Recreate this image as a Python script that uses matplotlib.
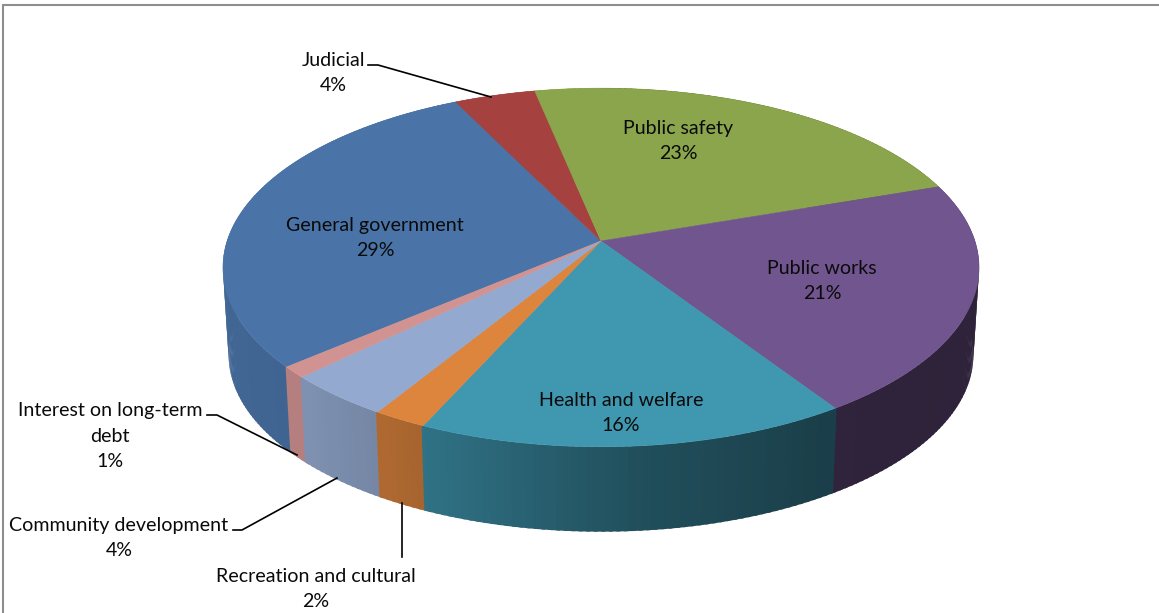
import numpy as np
import matplotlib
matplotlib.use("Agg")
import matplotlib.pyplot as plt

categories = ["General government", "Judicial", "Public safety", "Public works",
              "Health and welfare", "Recreation and cultural", "Community development",
              "Interest on long-term\ndebt"]
percents = [29, 4, 23, 21, 16, 2, 4, 1]
colors = ["#4A74A8", "#A5423F", "#8AA54C", "#71558E", "#3F97B0", "#DD843D", "#93A9CF", "#D19392"]

# label centres, in pixels
label_x = [375, 333, 678, 822, 621, 316, 119, 110]
label_y = [238, 73, 141, 281, 413, 589, 538, 436]

# leader lines for the labels that sit outside the pie
leaders = [
    ([368, 378, 491], [65, 65, 97]),
    ([207, 217, 297], [415, 415, 455]),
    ([233, 242, 337], [530, 530, 478]),
    ([402, 402], [503, 557]),
]

# pie geometry
CX, CY = 601, 241
A, B, K = 175.4, 373.9, 0.1476
DEPTH = 88
BOTTOM_SCALE = 0.985
START = 229.5

# wall brightness by clockwise angle from the back of the pie
SHADE_ANGLE = [0, 90, 150, 175, 200, 210, 225, 270, 360]
SHADE_VALUE = [0.40, 0.40, 0.42, 0.52, 0.73, 0.79, 0.86, 0.90, 0.90]


def project(angle):
    # perspective view of the unit circle, angle clockwise from the back
    t = np.radians(angle)
    x, y = np.sin(t), -np.cos(t)
    w = 1 - K * y
    return CX + B * x / w, CY + A * y / w


def lower(px, py):
    return CX + BOTTOM_SCALE * (px - CX), CY + DEPTH + BOTTOM_SCALE * (py - CY)


def shade(color, angle):
    f = np.interp(angle % 360, SHADE_ANGLE, SHADE_VALUE)
    return tuple(c * f for c in matplotlib.colors.to_rgb(color))


plt.rcParams["font.family"] = ["Lato", "DejaVu Sans"]

fig = plt.figure(figsize=(11.59, 6.13), dpi=100)
ax = fig.add_axes([0, 0, 1, 1])
ax.set_xlim(0, 1159)
ax.set_ylim(613, 0)
ax.axis("off")

# chart frame, only left and top fall inside the canvas
ax.plot([3, 3, 1159], [613, 5, 5], color="#8E8E8E", lw=1.5, solid_joinstyle="miter", zorder=1)

sweeps = np.array(percents) / sum(percents) * 360
edges = START + np.concatenate([[0], np.cumsum(sweeps)])

# walls: thin overlapping strips, far ones first so nearer ones cover the joins
strips = []
for i, color in enumerate(colors):
    a = np.arange(edges[i], edges[i + 1], 1.0)
    a = np.append(a, edges[i + 1])
    for a0, a1 in zip(a[:-1], a[1:]):
        strips.append((a0, a1, color))
strips.sort(key=lambda s: np.cos(np.radians((s[0] + s[1]) / 2)), reverse=True)
for a0, a1, color in strips:
    x0, y0 = project(np.array([a0 - 0.25, a1 + 0.25]))
    x1, y1 = lower(x0, y0)
    ax.fill([x0[0], x0[1], x1[1], x1[0]], [y0[0], y0[1], y1[1], y1[0]],
            facecolor=shade(color, (a0 + a1) / 2), edgecolor="none", zorder=2)

# top face
for i, color in enumerate(colors):
    a = np.linspace(edges[i], edges[i + 1], 80)
    px, py = project(a)
    ax.fill(np.r_[CX, px], np.r_[CY, py], facecolor=color, edgecolor=color, lw=0.4, zorder=3)

for xs, ys in leaders:
    ax.plot(xs, ys, color="black", lw=1.2, zorder=4)

for name, pct, x, y in zip(categories, percents, label_x, label_y):
    ax.text(x, y, f"{name}\n{pct}%", ha="center", va="center", fontsize=14.1,
            linespacing=1.6, color="#0A0A0A", zorder=5)

fig.savefig("out.png", dpi=100)
